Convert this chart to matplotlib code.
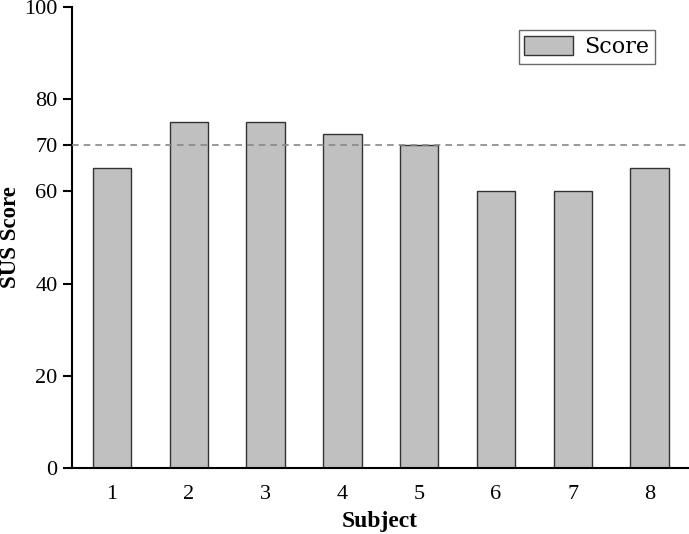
import matplotlib.pyplot as plt

# data
subjects = [1, 2, 3, 4, 5, 6, 7, 8]
scores = [65, 75, 75, 72.5, 70, 60, 60, 65]
y_ticks = [0, 20, 40, 60, 70, 80, 100]
threshold = 70

plt.rcParams['font.family'] = ['Liberation Serif', 'DejaVu Serif']

fig = plt.figure(figsize=(6.89, 5.34), dpi=100)
ax = fig.add_axes([0.1045, 0.1236, 0.894, 0.8633])

ax.bar(subjects, scores, width=0.5, color='#c0c0c0', edgecolor='#333333',
       linewidth=1.0, label='Score', zorder=2)
ax.axhline(threshold, color='#888888', linestyle=(0, (4, 3)), linewidth=1.2, zorder=3)

ax.set_xlim(0.48, 8.5)
ax.set_ylim(0, 100)
ax.set_xticks(subjects)
ax.set_yticks(y_ticks)
ax.tick_params(axis='x', length=0, labelsize=16, pad=12)
ax.tick_params(axis='y', length=6.5, width=1.5, labelsize=16, pad=4)

for s in ['top', 'right']:
    ax.spines[s].set_visible(False)
for s in ['left', 'bottom']:
    ax.spines[s].set_linewidth(1.5)

ax.set_xlabel('Subject', fontsize=17, fontweight='bold', labelpad=5)
ax.set_ylabel('SUS Score', fontsize=16.5, fontweight='bold', labelpad=2)

leg = ax.legend(loc='upper right', bbox_to_anchor=(0.946, 0.950),
                prop={'family': 'DejaVu Serif', 'size': 16},
                fancybox=False, edgecolor='#444444', handlelength=2.2,
                handleheight=1.0, borderpad=0.25, handletextpad=0.5,
                borderaxespad=0)
leg.get_frame().set_linewidth(1.0)

fig.savefig('out.png', dpi=100)
